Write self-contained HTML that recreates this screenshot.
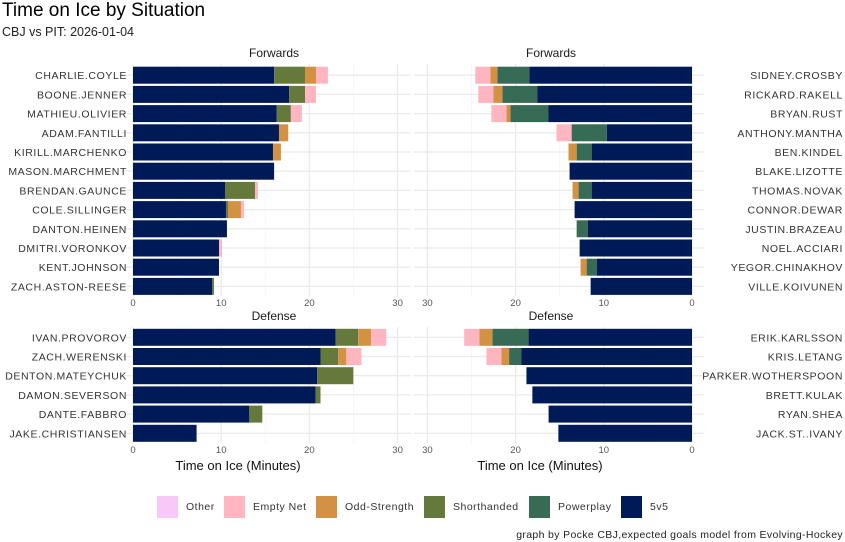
<!DOCTYPE html>
<html><head><meta charset="utf-8">
<style>
body{margin:0;background:#fff;font-family:"Liberation Sans",sans-serif;}
svg{display:block}
text{font-family:"Liberation Sans",sans-serif}
</style></head>
<body>
<svg id="chart" width="845" height="542">
<rect width="845" height="542" fill="#fff"/>
<text x="2" y="16" font-size="19" fill="#000">Time on Ice by Situation</text>
<text x="2" y="36" font-size="12.5" fill="#222">CBJ vs PIT: 2026-01-04</text>
<g id="panels"></g>
<g id="legend"></g>
<text x="843" y="538" font-size="10.5" letter-spacing="0.35" text-anchor="end" fill="#222">graph by Pocke CBJ,expected goals model from Evolving-Hockey</text>
</svg>
<script>
const situations = ["5v5","Powerplay","Shorthanded","Odd-Strength","Empty Net","Other"];
const colors = ["#001a57","#386b56","#66793c","#d39144","#ffb6c1","#f8c8f8"];
const ticks = [0,10,20,30];

const cbjFwd = ["CHARLIE.COYLE","BOONE.JENNER","MATHIEU.OLIVIER","ADAM.FANTILLI","KIRILL.MARCHENKO","MASON.MARCHMENT","BRENDAN.GAUNCE","COLE.SILLINGER","DANTON.HEINEN","DMITRI.VORONKOV","KENT.JOHNSON","ZACH.ASTON-REESE"];
const cbjFwd5v5 = [16.0,17.7,16.3,16.55,15.87,16.0,10.43,10.54,10.65,9.75,9.75,8.96];
const cbjFwdPP  = [0,0,0,0,0,0,0,0,0,0,0,0];
const cbjFwdSH  = [3.5,1.8,1.6,0,0,0,3.4,0.23,0,0,0,0.22];
const cbjFwdOS  = [1.25,0,0,1.05,0.9,0,0,1.47,0,0,0,0];
const cbjFwdEN  = [1.35,1.25,1.25,0,0,0,0.34,0.34,0,0.34,0,0];
const cbjFwdOT  = [0,0,0,0,0,0,0,0,0,0,0,0];

const pitFwd = ["SIDNEY.CROSBY","RICKARD.RAKELL","BRYAN.RUST","ANTHONY.MANTHA","BEN.KINDEL","BLAKE.LIZOTTE","THOMAS.NOVAK","CONNOR.DEWAR","JUSTIN.BRAZEAU","NOEL.ACCIARI","YEGOR.CHINAKHOV","VILLE.KOIVUNEN"];
const pitFwd5v5 = [18.43,17.52,16.27,9.67,11.38,13.88,11.38,13.31,11.83,12.74,10.81,11.49];
const pitFwdPP  = [3.64,3.98,4.32,3.98,1.7,0,1.48,0,1.25,0,1.14,0];
const pitFwdSH  = [0,0,0,0,0,0,0,0,0,0,0,0];
const pitFwdOS  = [0.8,1.03,0.46,0,0.92,0,0.68,0,0,0,0.68,0];
const pitFwdEN  = [1.7,1.7,1.7,1.71,0,0,0,0,0,0,0,0];
const pitFwdOT  = [0,0,0,0,0,0,0,0,0,0,0,0];

const cbjDef = ["IVAN.PROVOROV","ZACH.WERENSKI","DENTON.MATEYCHUK","DAMON.SEVERSON","DANTE.FABBRO","JAKE.CHRISTIANSEN"];
const cbjDef5v5 = [22.97,21.26,20.89,20.71,13.19,7.21];
const cbjDefPP  = [0,0,0,0,0,0];
const cbjDefSH  = [2.56,2.01,4.09,0.55,1.47,0];
const cbjDefOS  = [1.47,0.92,0,0,0,0];
const cbjDefEN  = [1.71,1.71,0,0,0,0];
const cbjDefOT  = [0,0,0,0,0,0];

const pitDef = ["ERIK.KARLSSON","KRIS.LETANG","PARKER.WOTHERSPOON","BRETT.KULAK","RYAN.SHEA","JACK.ST..IVANY"];
const pitDef5v5 = [18.53,19.33,18.77,18.1,16.26,15.15];
const pitDefPP  = [4.11,1.41,0,0,0,0];
const pitDefSH  = [0,0,0,0,0,0];
const pitDefOS  = [1.47,0.86,0,0,0,0];
const pitDefEN  = [1.72,1.71,0,0,0,0];
const pitDefOT  = [0,0,0,0,0,0];

const NS="http://www.w3.org/2000/svg";
const root=document.getElementById('panels');
function mk(tag,attrs,parent){const e=document.createElementNS(NS,tag);for(const k in attrs)e.setAttribute(k,attrs[k]);parent.appendChild(e);return e;}
const PXM=8.82;

function panel(opt){
  const {names,series,left,top,height,rows,reverse,title,side,key,axisTitle}=opt;
  const g=mk('g',{},root);
  
  
  const x0 = reverse?692:133;
  const xs=v=> reverse? x0 - v*PXM : x0 + v*PXM;
  const pitch=19.2, y0=top+ (rows===12?11.2:10.3);
  const ys=i=>y0+i*pitch;
  const pl = reverse?414:121, pr = reverse?704:411;
  [5,15,25].forEach(v=>{const l=mk('line',{x1:xs(v),x2:xs(v),y1:top,y2:top+height,stroke:'#f4f4f4','stroke-width':0.8},g);
    });
  ticks.forEach(v=>{const l=mk('line',{x1:xs(v),x2:xs(v),y1:top,y2:top+height,stroke:'#ebebeb','stroke-width':1.3},g);
    });
  names.forEach((n,i)=>{const l=mk('line',{x1:pl,x2:pr,y1:ys(i),y2:ys(i),stroke:'#ebebeb','stroke-width':1.3},g);
    });
  names.forEach((n,i)=>{
    let acc=0;
    series.forEach((s,si)=>{
      const v=s[i]; if(!v) return;
      const a=xs(acc), b=xs(acc+v);
      const r=mk('rect',{x:Math.min(a,b),y:ys(i)-8.5,width:Math.abs(b-a),height:17,fill:colors[si]},g);
      
      
      acc+=v;
    });
    const t=mk('text',{x: side==='left'?127:843, y:ys(i)+4,'text-anchor':'end','font-size':10.5,fill:'#333','letter-spacing':'0.6'},g);
    t.textContent=n;
    
    
  });
  ticks.forEach(v=>{const t=mk('text',{x:xs(v),y:top+height+10,'text-anchor':'middle','font-size':9.5,fill:'#555'},g);
    t.textContent=v;});
  const st=mk('text',{x:(pl+pr)/2+ (reverse?-8:8),y:top-7,'text-anchor':'middle','font-size':12,fill:'#1a1a1a'},g);
  st.textContent=title;
  if(axisTitle){const at=mk('text',{x:reverse?540:238,y:top+height+27,'text-anchor':'middle','font-size':13,fill:'#111'},g);
    at.textContent='Time on Ice (Minutes)';}
}
panel({key:'cbj-forwards',names:cbjFwd,series:[cbjFwd5v5,cbjFwdPP,cbjFwdSH,cbjFwdOS,cbjFwdEN,cbjFwdOT],top:64,height:232,rows:12,reverse:false,title:'Forwards',side:'left'});
panel({key:'pit-forwards',names:pitFwd,series:[pitFwd5v5,pitFwdPP,pitFwdSH,pitFwdOS,pitFwdEN,pitFwdOT],top:64,height:232,rows:12,reverse:true,title:'Forwards',side:'right'});
panel({key:'cbj-defense',names:cbjDef,series:[cbjDef5v5,cbjDefPP,cbjDefSH,cbjDefOS,cbjDefEN,cbjDefOT],top:327,height:116,rows:6,reverse:false,title:'Defense',side:'left',axisTitle:true});
panel({key:'pit-defense',names:pitDef,series:[pitDef5v5,pitDefPP,pitDefSH,pitDefOS,pitDefEN,pitDefOT],top:327,height:116,rows:6,reverse:true,title:'Defense',side:'right',axisTitle:true});

const lg=document.getElementById('legend');
const legOrder=["Other","Empty Net","Odd-Strength","Shorthanded","Powerplay","5v5"];
const legKeyX=[157,224,316,424,529,621];
legOrder.forEach((s,i)=>{
  const si=situations.indexOf(s);
  const r=mk('rect',{x:legKeyX[i],y:496,width:21,height:22,fill:colors[si]},lg);
  
  
  const t=mk('text',{x:legKeyX[i]+29,y:510,'font-size':10.5,fill:'#333','letter-spacing':'0.5'},lg);
  t.textContent=s;
  
  
});
</script>
</body></html>
